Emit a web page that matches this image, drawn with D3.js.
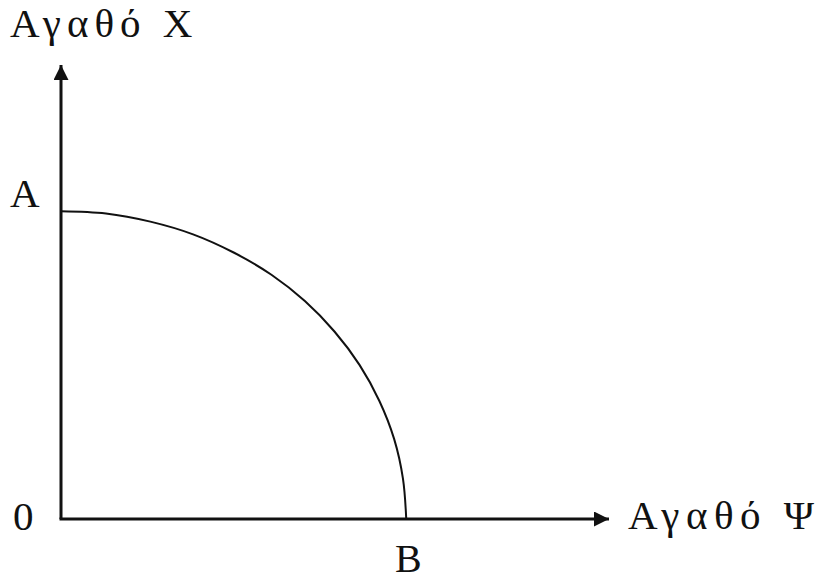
<!DOCTYPE html>
<html>
<head>
<meta charset="utf-8">
<script src="https://cdn.jsdelivr.net/npm/d3@7"></script>
<style>
  body { margin: 0; background: #fff; }
  text { font-family: "Liberation Serif", "DejaVu Serif", serif; fill: #111; }
</style>
</head>
<body>
<svg width="822" height="583"></svg>
<script>
// frontier points (good Ψ, good Χ), arbitrary units
const goodY = [0, 8.2, 16.3, 24.1, 31.5, 38.4, 44.5, 49.9, 54.5, 58.1, 60.8, 62.4, 63]
const goodX = [67.8, 67.3, 65.5, 62.7, 58.7, 53.8, 48.0, 41.3, 33.9, 26.0, 17.6, 8.9, 0]
const axisLabels = ["Αγαθό Χ", "Αγαθό Ψ"]
const pointLabels = ["Α", "Β", "0"]

var svg = d3.select("svg"),
    margin = {top: 65, right: 213, bottom: 64, left: 61}
let width = +svg.attr("width") - margin.left - margin.right
let height = +svg.attr("height") - margin.top - margin.bottom

let x = d3.scaleLinear().domain([0, 100]).range([0, width])
let y = d3.scaleLinear().domain([0, 100]).range([height, 0])

let g = svg.append("g")
  .attr("transform", "translate(" + margin.left + "," + margin.top + ")")

svg.append("defs").append("marker")
  .attr("id", "arrow")
  .attr("viewBox", "0 0 10 10")
  .attr("refX", 10)
  .attr("refY", 5)
  .attr("markerUnits", "userSpaceOnUse")
  .attr("markerWidth", 16)
  .attr("markerHeight", 15)
  .attr("orient", "auto")
  .append("path")
  .attr("d", "M0,0L10,5L0,10Z")
  .attr("fill", "#111")

// axes
g.append("line")
  .attr("x1", x(0)).attr("y1", y(0))
  .attr("x2", x(0)).attr("y2", y(100))
  .attr("stroke", "#111").attr("stroke-width", 3)
  .attr("marker-end", "url(#arrow)")

g.append("line")
  .attr("x1", x(0) - 1.5).attr("y1", y(0))
  .attr("x2", x(100)).attr("y2", y(0))
  .attr("stroke", "#111").attr("stroke-width", 3)
  .attr("marker-end", "url(#arrow)")

// production possibility frontier
let pts = goodY.map((d, i) => [d, goodX[i]])
let line = d3.line()
  .x(d => x(d[0]))
  .y(d => y(d[1]))
  .curve(d3.curveCatmullRom.alpha(0.5))

g.append("path")
  .datum(pts)
  .attr("d", line)
  .attr("fill", "none")
  .attr("stroke", "#111")
  .attr("stroke-width", 2)

// labels
svg.append("text")
  .attr("x", 10).attr("y", 37)
  .attr("font-size", 41)
  .attr("letter-spacing", 6)
  .text(axisLabels[0])

svg.append("text")
  .attr("x", 628).attr("y", 529)
  .attr("font-size", 41)
  .attr("letter-spacing", 6.5)
  .text(axisLabels[1])

g.append("text")
  .attr("x", x(0) - 51).attr("y", y(goodX[0]) - 4)
  .attr("font-size", 41)
  .text(pointLabels[0])

g.append("text")
  .attr("x", x(goodY[goodY.length - 1]) + 2).attr("y", y(0) + 53)
  .attr("text-anchor", "middle")
  .attr("font-size", 40)
  .text(pointLabels[1])

g.append("text")
  .attr("x", x(0) - 48).attr("y", y(0) + 11)
  .attr("font-size", 41)
  .text(pointLabels[2])
</script>
</body>
</html>
